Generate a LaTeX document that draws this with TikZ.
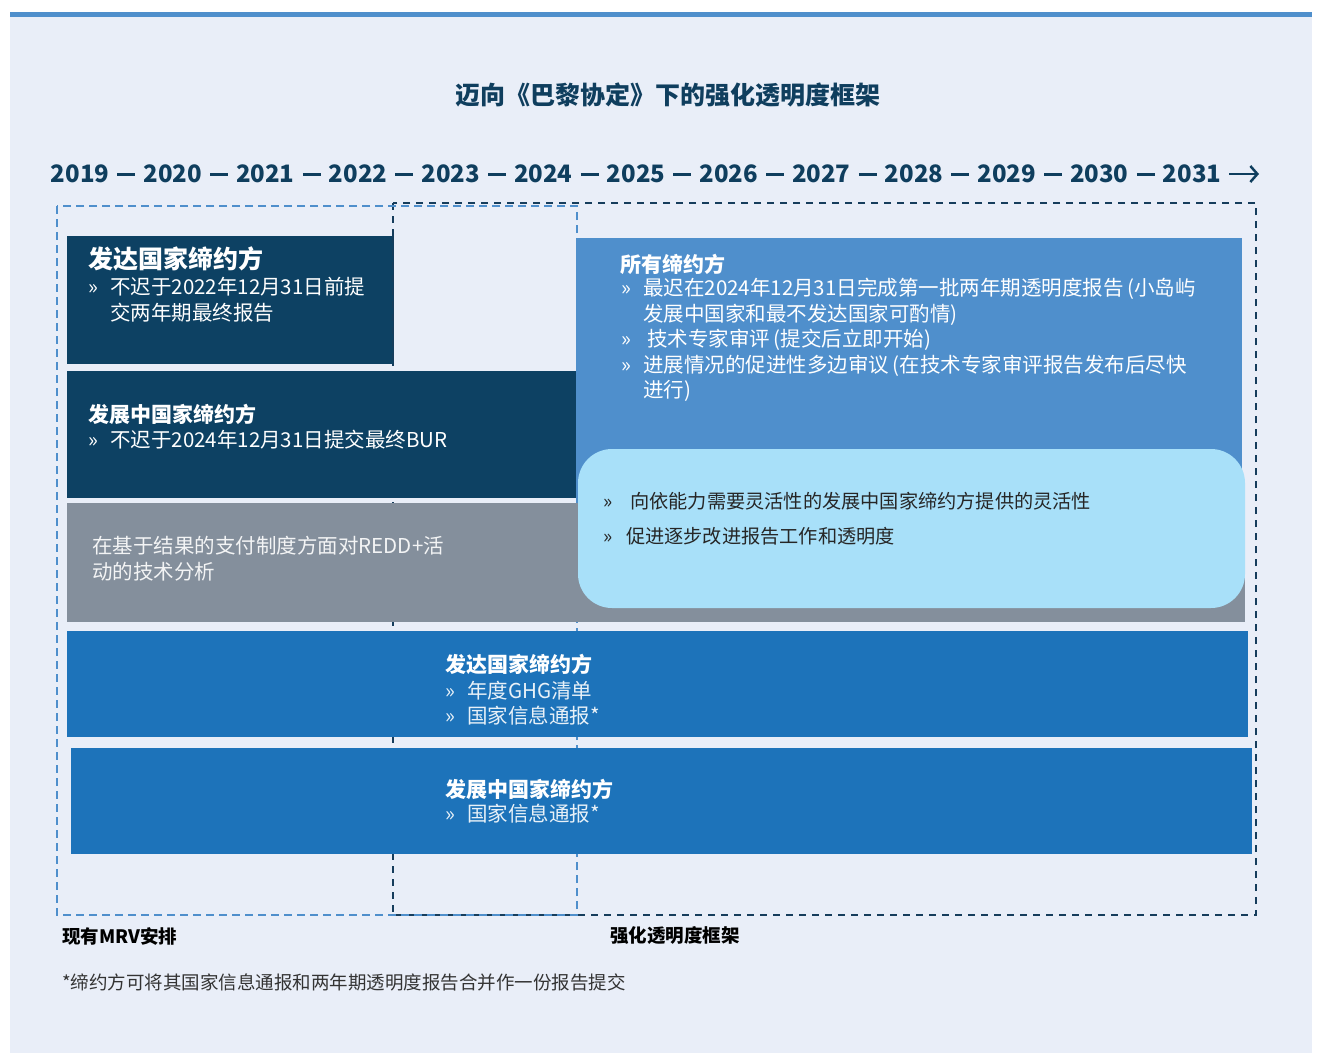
\documentclass[tikz,border=0pt]{standalone}
\usepackage{fontspec}
\setmainfont{Noto Sans CJK SC}
\usetikzlibrary{positioning, arrows.meta}
\definecolor{pageBg}{HTML}{E9EEF8}
\definecolor{navy}{HTML}{0D4163}
\definecolor{navyText}{HTML}{0F3E5E}
\definecolor{midBlue}{HTML}{4F8FCC}
\definecolor{repBlue}{HTML}{1D73BA}
\definecolor{reddGray}{HTML}{848F9C}
\definecolor{flexCyan}{HTML}{A8E0F9}
\definecolor{dashNavy}{HTML}{163D5C}
\newcommand{\bul}[1][22pt]{\makebox[#1][l]{»}}
\tikzset{
    x=1pt, y=-1pt,
    box/.style={anchor=north west, inner sep=0pt, outer sep=0pt}, % the coloured blocks
    head/.style={anchor=west, inner sep=0pt, text=white, font=\bfseries\fontsize{21}{25}\selectfont},
    body/.style={anchor=west, inner sep=0pt, text=white, align=left, font=\fontsize{20.5}{25.5}\selectfont},
    year/.style={inner sep=0pt, text=navyText, font=\bfseries\fontsize{24}{28}\selectfont},
    yearDash/.style={line width=3pt, navyText, shorten <=8pt, shorten >=8pt},
    frameLight/.style={midBlue, line width=2.5pt, dash pattern=on 8pt off 5pt},
    frameDark/.style={dashNavy, line width=2.5pt, dash pattern=on 7pt off 6pt},
    note/.style={anchor=west, inner sep=0pt, font=\fontsize{18.5}{22}\selectfont},
}
\begin{document}
\begin{tikzpicture}
    \useasboundingbox (0,0) rectangle (1317,1055);
    \fill[pageBg] (10,12) rectangle (1312,1053);
    \fill[midBlue] (10,12) rectangle (1312,17);

    \node[text=navyText, font=\bfseries\fontsize{25}{28}\selectfont] (title) at (668,95)
        {迈向《巴黎协定》下的强化透明度框架};

    % timeline
    \foreach \yr [count=\i from 0] in {2019,...,2031}
        \node[year] (y\i) at (80+92.67*\i,174) {\yr};
    \foreach \i [evaluate=\i as \j using int(\i+1)] in {0,...,11}
        \draw[yearDash] (y\i.east) -- (y\j.west);
    \coordinate (yEnd) at (1259,174);
    \draw[line width=2.5pt, navyText, -{Straight Barb[length=7pt,width=16pt]}]
        ([xshift=8pt]y12.east) -- (yEnd);

    % existing MRV and enhanced framework
    \draw[frameDark] (393,203) rectangle (1256,915);
    \draw[frameLight] (57,206) rectangle (577,915);

    \node[box, fill=navy, minimum width=326pt, minimum height=128pt] (dvdBox) at (67,236) {};
    \node[box, fill=navy, minimum width=509pt, minimum height=127pt] (dvgBox) at (67,371) {};
    \node[box, fill=reddGray, minimum width=1178pt, minimum height=119pt] (reddBox) at (67,503) {};
    \node[box, fill=midBlue, minimum width=666pt, minimum height=262pt] (allBox) at (576,238) {};
    \node[box, fill=flexCyan, rounded corners=34pt, minimum width=667pt, minimum height=159pt] (flexBox) at (578,449) {};
    \node[box, fill=repBlue, minimum width=1181pt, minimum height=106pt] (dvdRep) at (67,631) {};
    \node[box, fill=repBlue, minimum width=1181pt, minimum height=106pt] (dvgRep) at (71,748) {};
    \draw[frameDark] (393,236) -- (393,364);

    % texts
    \node[head, font=\bfseries\fontsize{25}{28}\selectfont] (dvdHead) at ([shift={(21,23)}]dvdBox.north west) {发达国家缔约方};
    \node[body] (dvdText) at ([shift={(21,63.5)}]dvdBox.north west)
        {\bul 不迟于2022年12月31日前提\\ \hspace*{22pt}交两年期最终报告};
    \node[head] (dvgHead) at ([shift={(21,43)}]dvgBox.north west) {发展中国家缔约方};
    \node[body] (dvgText) at ([shift={(21,69)}]dvgBox.north west) {\bul 不迟于2024年12月31日提交最终BUR};
    \node[body, text=white!90!reddGray] (reddText) at ([shift={(25,55.5)}]reddBox.north west)
        {在基于结果的支付制度方面对REDD+活\\动的技术分析};
    \node[head] (allHead) at ([shift={(44,26)}]allBox.north west) {所有缔约方};
    \node[body] (allText) at ([shift={(45,102)}]allBox.north west)
        {\bul 最迟在2024年12月31日完成第一批两年期透明度报告\,(小岛屿\\
         \hspace*{22pt}发展中国家和最不发达国家可酌情)\\
         \bul\hspace*{4pt}技术专家审评\,(提交后立即开始)\\
         \bul 进展情况的促进性多边审议\,(在技术专家审评报告发布后尽快\\
         \hspace*{22pt}进行)};
    \node[body, text=black!85, font=\fontsize{19.2}{35}\selectfont] (flexText) at ([shift={(25,69.5)}]flexBox.north west)
        {\bul[27pt]向依能力需要灵活性的发展中国家缔约方提供的灵活性\\
         \bul[23pt]促进逐步改进报告工作和透明度};
    \node[head] (dvdRepHead) at ([shift={(378,33)}]dvdRep.north west) {发达国家缔约方};
    \node[body, text=white!90!repBlue] (dvdRepText) at ([shift={(378,72)}]dvdRep.north west)
        {\bul 年度GHG清单\\ \bul 国家信息通报*};
    \node[head] (dvgRepHead) at ([shift={(374,41)}]dvgRep.north west) {发展中国家缔约方};
    \node[body, text=white!90!repBlue] (dvgRepText) at ([shift={(374,66)}]dvgRep.north west)
        {\bul 国家信息通报*};

    \node[note, font=\bfseries\fontsize{18.5}{22}\selectfont] (mrvLabel) at (62,936) {现有MRV安排};
    \node[note, font=\bfseries\fontsize{18.5}{22}\selectfont] (etfLabel) at (610,936) {强化透明度框架};
    \node[note, text=black!80] (footNote) at (62,982) {*缔约方可将其国家信息通报和两年期透明度报告合并作一份报告提交};
\end{tikzpicture}
\end{document}
